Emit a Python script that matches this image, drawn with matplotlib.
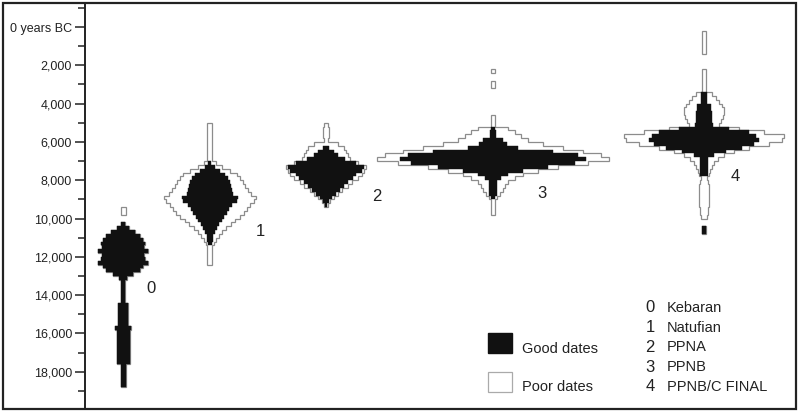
import matplotlib
matplotlib.use("Agg")
import matplotlib.pyplot as plt
from matplotlib.patches import Rectangle
from matplotlib.ticker import MultipleLocator, FuncFormatter
import numpy as np

plt.rcParams['font.family'] = ['Liberation Sans', 'DejaVu Sans']

# radiocarbon date frequencies per 200-year bin (half-widths of each "battleship")
BIN = 200

phase_ids = ["0", "1", "2", "3", "4"]
phase_names = ["Kebaran", "Natufian", "PPNA", "PPNB", "PPNB/C FINAL"]

start_year = [9400, 5000, 5000, 2000, 200]

good_dates = [
    # Kebaran
    [0, 0, 0, 0, 2, 6, 12, 17, 20, 22, 21, 25, 21, 22, 25, 20, 17, 10, 4,
     2, 2, 2, 2, 2, 2, 5, 5, 5, 5, 5, 5, 8,
     6.5, 6.5, 6.5, 6.5, 6.5, 6.5, 6.5, 6.5, 6.5, 2.5, 2.5, 2.5, 2.5, 2.5, 2.5],
    # Natufian
    [0, 0, 0, 0, 0, 0, 0, 0, 0, 0,
     1.5, 5, 10, 15, 18, 20, 21, 22, 23, 28, 27, 22, 19, 17, 14, 12, 9, 7, 5, 3, 3, 2,
     0, 0, 0, 0, 0],
    # PPNA
    [0, 0, 0, 0, 0, 0, 3, 8, 12, 19, 30, 38, 36, 30, 27, 22, 18, 14, 10, 6, 3, 1],
    # PPNB
    [0, 0, 0, 0, 0, 0, 0, 0, 0, 0, 0, 0, 0, 0, 0, 0,
     2, 3, 3, 10, 14, 25, 60, 85, 93, 82, 55, 30, 15, 8, 4, 4, 4, 4, 2,
     0, 0, 0, 0],
    # PPNB/C FINAL
    [0, 0, 0, 0, 0, 0, 0, 0, 0, 0, 0, 0, 0, 0, 0, 0,
     3, 3, 3, 7, 7, 8, 8, 8, 9, 25, 45, 52, 55, 50, 38, 22, 10, 4, 4, 4, 4, 4,
     0, 0, 0, 0, 0, 0, 0, 0, 0, 0, 0, 0, 0, 2, 2],
]

all_dates = [
    # Kebaran
    [2.5, 2.5, 0, 0, 2, 6, 12, 17, 20, 22, 21, 25, 21, 22, 25, 20, 17, 10, 4,
     2, 2, 2, 2, 2, 2, 5, 5, 5, 5, 5, 5, 8,
     6.5, 6.5, 6.5, 6.5, 6.5, 6.5, 6.5, 6.5, 6.5, 2.5, 2.5, 2.5, 2.5, 2.5, 2.5],
    # Natufian
    [2.5, 2.5, 2.5, 2.5, 2.5, 2.5, 2.5, 2.5, 2.5, 2.5,
     6, 12, 20, 27, 30, 33, 35, 38, 41, 46, 44, 40, 37, 34, 30, 25, 21, 16, 12, 9, 6, 4,
     2.5, 2.5, 2.5, 2.5, 2.5],
    # PPNA
    [2, 3, 3, 3, 2, 12, 18, 20, 22, 24, 32, 40, 38, 36, 32, 26, 22, 16, 12, 8, 4, 2],
    # PPNB
    [0, 2, 0, 0, 2, 2, 0, 0, 0, 0, 0, 0, 0, 2, 2, 2,
     15, 22, 28, 35, 50, 70, 90, 108, 116, 95, 65, 45, 30, 22, 15, 12, 10, 7, 4,
     2, 2, 2, 2],
    # PPNB/C FINAL
    [2, 2, 2, 2, 2, 2, 0, 0, 0, 0, 2, 2, 2, 2, 2, 2,
     8, 12, 15, 18, 20, 20, 19, 17, 15, 35, 60, 80, 78, 65, 45, 30, 20, 14, 10, 8, 6, 5,
     3, 4, 5, 5, 5, 5, 5, 5, 4, 4, 3, 0, 0, 2, 2],
]

# layout (pixel-like x units, years BC on y)
centers = [123, 209.5, 325.5, 493, 703.5]
label_pos = [(151, 13640), (260, 10700), (377, 8870), (542, 8670), (735, 7780)]

W, H = 799, 413
fig = plt.figure(figsize=(W / 100, H / 100), dpi=100)


def fx(x):
    return x / W


def fy(y):
    return 1 - y / H


ax = fig.add_axes([fx(85), fy(408), fx(797) - fx(85), fy(3) - fy(408)])
ax.set_xlim(85, 797)
ax.set_ylim(19890, -1253)


def draw_profile(ax, x0, y0, widths, **kw):
    widths = np.asarray(widths, float)
    n = len(widths)
    edges = y0 + BIN * np.arange(n + 1)
    i = 0
    while i < n:
        if widths[i] <= 0:
            i += 1
            continue
        j = i
        while j < n and widths[j] > 0:
            j += 1
        w = np.repeat(widths[i:j], 2)
        yy = np.repeat(edges[i:j + 1], 2)[1:-1]
        xs = np.concatenate([x0 - w, (x0 + w)[::-1]])
        ys = np.concatenate([yy, yy[::-1]])
        ax.fill(xs, ys, **kw)
        i = j


for k in range(len(phase_ids)):
    draw_profile(ax, centers[k], start_year[k], all_dates[k],
                 facecolor='white', edgecolor='#8c8c8c', linewidth=0.9, zorder=2)
    draw_profile(ax, centers[k], start_year[k], good_dates[k],
                 facecolor='#111111', edgecolor='#111111', linewidth=0.3, zorder=3)
    lx, ly = label_pos[k]
    ax.text(lx, ly, phase_ids[k], fontsize=12, color='#222222',
            ha='center', va='center')

# axis styling
for side in ['top', 'right', 'bottom']:
    ax.spines[side].set_visible(False)
ax.spines['left'].set_linewidth(1.4)
ax.spines['left'].set_color('#222222')
ax.set_xticks([])
ax.yaxis.set_major_locator(MultipleLocator(2000))
ax.yaxis.set_minor_locator(MultipleLocator(1000))
ax.yaxis.set_major_formatter(FuncFormatter(
    lambda v, p: '0 years BC' if v == 0 else f'{int(v):,}'))
ax.tick_params(axis='y', which='major', length=7.2, width=1.1, color='#222222',
               labelsize=9, labelcolor='#222222', pad=2.2)
ax.tick_params(axis='y', which='minor', length=5, width=1.1, color='#222222')

# outer frame
fig.patches.append(Rectangle((fx(2.5), fy(409)), fx(796) - fx(2.5), fy(2.5) - fy(409),
                             transform=fig.transFigure, fill=False,
                             edgecolor='#222222', linewidth=1.6))

# legend: date quality
fig.patches.append(Rectangle((fx(488), fy(353)), fx(24), 20 / H,
                             transform=fig.transFigure, facecolor='#111111',
                             edgecolor='#111111'))
fig.patches.append(Rectangle((fx(488), fy(392)), fx(24), 20 / H,
                             transform=fig.transFigure, facecolor='white',
                             edgecolor='#aaaaaa', linewidth=0.9))
fig.text(fx(522), fy(349), 'Good dates', fontsize=10.5, color='#222222', va='center')
fig.text(fx(522), fy(387), 'Poor dates', fontsize=10.5, color='#222222', va='center')

# legend: phases
for k in range(len(phase_ids)):
    yk = 308 + k * 19.7
    fig.text(fx(650), fy(yk), phase_ids[k], fontsize=12, color='#222222',
             ha='center', va='center')
    fig.text(fx(667), fy(yk), phase_names[k], fontsize=10.5, color='#222222',
             va='center')

fig.savefig('out.png', dpi=100)
